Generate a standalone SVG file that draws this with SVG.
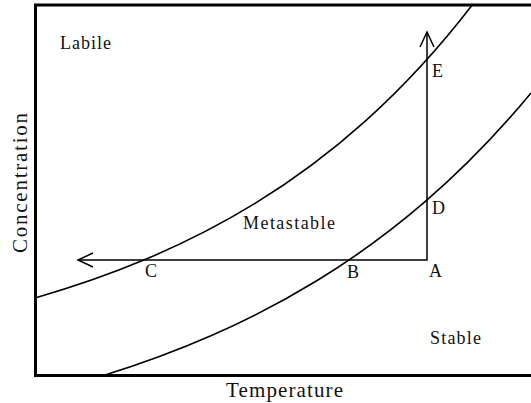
<svg xmlns="http://www.w3.org/2000/svg" width="531" height="403" viewBox="0 0 531 403">
<style>
.frame{fill:none;stroke:#000;stroke-width:3}
.curve{fill:none;stroke:#000;stroke-width:1.6}
.conn{fill:none;stroke:#000;stroke-width:1.5}
.lbl{font-family:"Liberation Serif","Times New Roman",serif;font-size:18px;fill:#111}
.axis{font-family:"Liberation Serif","Times New Roman",serif;font-size:21px;fill:#111}
</style>
<defs>
<marker id="open" markerUnits="userSpaceOnUse" markerWidth="20" markerHeight="20" refX="0" refY="0" orient="auto-start-reverse" overflow="visible">
<path d="M-15,-7 L0,0 L-15,7" fill="none" stroke="#000" stroke-width="1.5"/>
</marker>
</defs>
<rect width="531" height="403" fill="#fff"/>
<g id="curves">
<path id="upper-curve" class="curve" d="M35,298 C71.67,287.47 108.33,274.97 145,259.58 C181.67,244.19 218.33,225.92 255,203.43 C291.67,180.94 328.33,154.25 365,121.38 C401,89.11 437,50.87 473,4.02"/>
<path id="lower-curve" class="curve" d="M105,375 C140.5,363.93 176,351 211.5,335.47 C247,319.94 282.5,301.8 318,280.01 C353.5,258.22 389,232.77 424.5,202.19 C460,171.61 495.5,135.93 531,93.02"/>
</g>
<g id="frame">
<path class="frame" d="M531,5 H35.5 V375.5 H531"/>
</g>
<g id="connectors">
<path class="conn" d="M78,260 H427 V32" marker-start="url(#open)" marker-end="url(#open)"/>
</g>
<g id="region-labile"><text class="lbl" x="60" y="49" textLength="51" lengthAdjust="spacing">Labile</text></g>
<g id="region-metastable"><text class="lbl" x="243" y="229" textLength="92" lengthAdjust="spacing">Metastable</text></g>
<g id="region-stable"><text class="lbl" x="430" y="344" textLength="51" lengthAdjust="spacing">Stable</text></g>
<g id="point-E"><text class="lbl" x="432" y="77">E</text></g>
<g id="point-D"><text class="lbl" x="432" y="214">D</text></g>
<g id="point-A"><text class="lbl" x="429" y="277">A</text></g>
<g id="point-B"><text class="lbl" x="347" y="278">B</text></g>
<g id="point-C"><text class="lbl" x="145" y="277">C</text></g>
<g id="axis-x"><text class="axis" x="226" y="397" textLength="117" lengthAdjust="spacing">Temperature</text></g>
<g id="axis-y"><text class="axis" transform="translate(27,253) rotate(-90)" x="0" y="0" textLength="140" lengthAdjust="spacing">Concentration</text></g>
</svg>
